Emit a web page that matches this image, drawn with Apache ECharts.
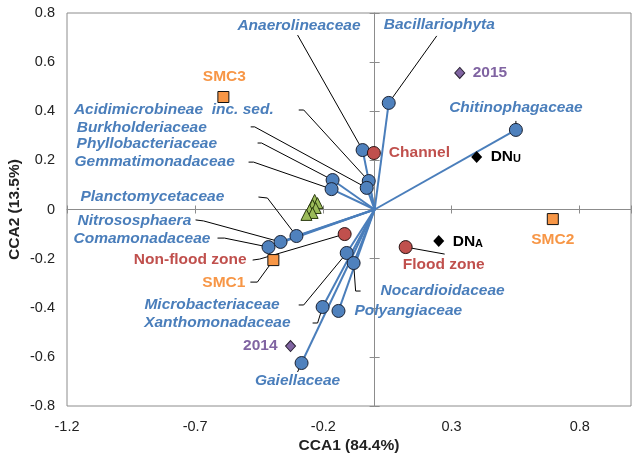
<!DOCTYPE html>
<html>
<head>
<meta charset="utf-8">
<script src="https://cdn.jsdelivr.net/npm/echarts@6/dist/echarts.min.js"></script>
<style>
html,body{margin:0;padding:0;background:#fff;}
#chart{width:638px;height:460px;}
</style>
</head>
<body>
<div id="chart"></div>
<script>
// ---------------- DATA ----------------
const speciesNames = ['Anaerolineaceae','Bacillariophyta','Chitinophagaceae','Acidimicrobineae  inc. sed.',
  'Burkholderiaceae','Phyllobacteriaceae','Gemmatimonadaceae','Planctomycetaceae','Nitrososphaera',
  'Comamonadaceae','Microbacteriaceae','Xanthomonadaceae','Gaiellaceae','Nocardioidaceae','Polyangiaceae'];
const speciesX = [-0.047, 0.055, 0.551, -0.023, -0.031, -0.164, -0.168, -0.305, -0.367, -0.414, -0.109, -0.203, -0.285, -0.082, -0.141];
const speciesY = [0.242, 0.434, 0.324, 0.116, 0.088, 0.120, 0.083, -0.108, -0.132, -0.153, -0.177, -0.397, -0.625, -0.218, -0.413];

const otherX = [-0.234, -0.223, -0.242, -0.230, -0.254, -0.242, -0.266];
const otherY = [0.039, 0.026, 0.018, 0.006, -0.002, -0.014, -0.022];

const siteNames = ['Channel', 'Non-flood zone', 'Flood zone'];
const siteX = [-0.003, -0.117, 0.121];
const siteY = [0.230, -0.100, -0.153];

const smcNames = ['SMC1', 'SMC2', 'SMC3'];
const smcX = [-0.395, 0.695, -0.590];
const smcY = [-0.206, -0.039, 0.458];

const yearNames = ['2014', '2015'];
const yearX = [-0.328, 0.332];
const yearY = [-0.556, 0.556];

const dnNames = ['A', 'U'];   // DN subscripts
const dnX = [0.250, 0.398];
const dnY = [-0.128, 0.214];

const xAxisTitle = 'CCA1 (84.4%)';
const yAxisTitle = 'CCA2 (13.5%)';

// ---------------- LAYOUT / STYLE (pixels) ----------------
const FONT = '"Liberation Sans", Arial, sans-serif';
const LFS = 15.5; // label font size
const C_BLUE = '#4f81bd', C_BLUE_T = '#4a7ebb', C_RED = '#c0504d', C_ORANGE = '#f79646', C_PURPLE = '#8064a2', C_GREEN = '#9bbb59';
const layout = {
  'Anaerolineaceae': {dx:-2, dy:-124, align:'right', leader:[[-65,-115]]},
  'Bacillariophyta': {dx:-5, dy:-78, align:'left', leader:[[48,-67]]},
  'Chitinophagaceae': {dx:0, dy:-22, align:'center', leader:[[0,-9]]},
  'Acidimicrobineae  inc. sed.': {dx:-95, dy:-71, align:'right', leader:[[-70,-71],[-65,-71]]},
  'Burkholderiaceae': {dx:-290, dy:-60, align:'left', leader:[[-116,-61],[-112,-61]]},
  'Phyllobacteriaceae': {dx:-256, dy:-36, align:'left', leader:[[-75,-37],[-71,-37]]},
  'Gemmatimonadaceae': {dx:-257, dy:-27, align:'left', leader:[[-83,-27],[-78,-27]]},
  'Planctomycetaceae': {dx:-216, dy:-39, align:'left', leader:[[-38,-39],[-29,-38]]},
  'Nitrososphaera': {dx:-203, dy:-21, align:'left', leader:[[-85,-22],[-77,-21]]},
  'Comamonadaceae': {dx:-195, dy:-8, align:'left', leader:[[-51,-9],[-44,-9]]},
  'Microbacteriaceae': {dx:-67, dy:52, align:'right', leader:[[-48,52],[-43,52]]},
  'Xanthomonadaceae': {dx:-32, dy:16, align:'right', leader:[[-10,16],[-5,16]]},
  'Gaiellaceae': {dx:-4, dy:18, align:'center', leader:[[-4,9]]},
  'Nocardioidaceae': {dx:27, dy:28, align:'left', leader:[[7,28],[2,28]]},
  'Polyangiaceae': {dx:16, dy:0, align:'left', leader:null},
  'Channel': {dx:15, dy:0, align:'left', leader:null},
  'Non-flood zone': {dx:-98, dy:26, align:'right', leader:[[-92,26],[-85,25]]},
  'Flood zone': {dx:38, dy:18, align:'center', leader:[[39,7]]},
  'SMC1': {dx:-28, dy:23, align:'right', leader:[[-23,22],[-16,22]]},
  'SMC2': {dx:0, dy:21, align:'center', leader:null},
  'SMC3': {dx:1, dy:-20, align:'center', leader:null},
  '2014': {dx:-13, dy:0, align:'right', leader:null},
  '2015': {dx:13, dy:0, align:'left', leader:null},
  'A': {dx:14, dy:1, align:'left', leader:null},
  'U': {dx:14, dy:0, align:'left', leader:null}
};

function zip(xs, ys){ return xs.map((x,i)=>[x, ys[i]]); }

function labelSeries(names, xs, ys, color, italic, isDN){
  return {
    type:'custom', z:10, silent:true,
    data: zip(xs, ys),
    encode:{x:0, y:1},
    renderItem: function(params, api){
      const name = names[params.dataIndex];
      const cfg = layout[name];
      const p = api.coord([api.value(0), api.value(1)]);
      const children = [];
      if (cfg.leader){
        const pts = cfg.leader.map(o=>[p[0]+o[0], p[1]+o[1]]);
        pts.push([p[0], p[1]]);
        children.push({type:'polyline', z2:0, shape:{points:pts}, style:{stroke:'#000', lineWidth:1, fill:null}});
      }
      const st = {x:p[0]+cfg.dx, y:p[1]+cfg.dy, align:cfg.align, verticalAlign:'middle',
        fill:color, fontSize:LFS, fontWeight:'bold', fontStyle: italic?'italic':'normal', fontFamily:FONT};
      if (isDN){
        st.text = '{a|DN}{s|' + name + '}';
        st.rich = {
          a:{fontSize:LFS, fontWeight:'bold', fontFamily:FONT, fill:'#000', color:'#000', lineHeight:16, verticalAlign:'top'},
          s:{fontSize:11, fontWeight:'bold', fontFamily:FONT, fill:'#000', color:'#000', lineHeight:11, padding:[7,0,0,0], verticalAlign:'bottom'}
        };
      } else {
        st.text = name;
      }
      children.push({type:'text', z2:1, style:st});
      return {type:'group', children:children};
    }
  };
}

const chart = echarts.init(document.getElementById('chart'), null, {renderer:'canvas'});
const axisGray = '#8c8c8c';
const option = {
  animation:false,
  backgroundColor:'#fff',
  grid:{left:67, right:7, top:13, bottom:54, show:true, borderColor:axisGray, borderWidth:1,
        backgroundColor:'transparent', containLabel:false, outerBoundsMode:'none'},
  xAxis:[
    {type:'value', min:-1.2, max:1.0, interval:0.5, position:'bottom',
     axisLine:{show:false, onZero:false}, axisTick:{show:false}, splitLine:{show:false},
     axisLabel:{fontSize:14.5, color:'#222', fontFamily:FONT, margin:13, showMaxLabel:false},
     name:xAxisTitle, nameLocation:'middle', nameGap:32, nameMoveOverlap:false,
     nameTextStyle:{fontSize:15.5, fontWeight:'bold', color:'#222', fontFamily:FONT}},
    {type:'value', min:-1.2, max:1.0, interval:0.5, position:'bottom',
     axisLine:{show:true, onZero:true, lineStyle:{color:axisGray, width:1}},
     axisTick:{show:true, inside:true, length:4, lineStyle:{color:axisGray}}, axisLabel:{show:false}, splitLine:{show:false}},
    {type:'value', min:-1.2, max:1.0, interval:0.5, position:'bottom',
     axisLine:{show:false, onZero:true},
     axisTick:{show:true, inside:false, length:4, lineStyle:{color:axisGray}}, axisLabel:{show:false}, splitLine:{show:false}}
  ],
  yAxis:[
    {type:'value', min:-0.8, max:0.8, interval:0.2, position:'left',
     axisLine:{show:false, onZero:false}, axisTick:{show:false}, splitLine:{show:false},
     axisLabel:{fontSize:14.5, color:'#222', fontFamily:FONT, margin:12},
     name:yAxisTitle, nameLocation:'middle', nameGap:44, nameRotate:90, nameMoveOverlap:false,
     nameTextStyle:{fontSize:15.5, fontWeight:'bold', color:'#222', fontFamily:FONT}},
    {type:'value', min:-0.8, max:0.8, interval:0.2, position:'left',
     axisLine:{show:true, onZero:true, lineStyle:{color:axisGray, width:1}},
     axisTick:{show:true, inside:true, length:5, lineStyle:{color:axisGray}}, axisLabel:{show:false}, splitLine:{show:false}},
    {type:'value', min:-0.8, max:0.8, interval:0.2, position:'left',
     axisLine:{show:false, onZero:true},
     axisTick:{show:true, inside:false, length:5, lineStyle:{color:axisGray}}, axisLabel:{show:false}, splitLine:{show:false}}
  ],
  series:[
    {type:'custom', z:3, silent:true, data:zip(speciesX, speciesY), encode:{x:0,y:1},
     renderItem:function(params, api){
       const o = api.coord([0,0]);
       const p = api.coord([api.value(0), api.value(1)]);
       return {type:'line', shape:{x1:o[0], y1:o[1], x2:p[0], y2:p[1]}, style:{stroke:C_BLUE_T, lineWidth:2}};
     }},
    labelSeries(speciesNames, speciesX, speciesY, C_BLUE_T, true, false),
    labelSeries(siteNames, siteX, siteY, C_RED, false, false),
    labelSeries(smcNames, smcX, smcY, C_ORANGE, false, false),
    labelSeries(yearNames, yearX, yearY, C_PURPLE, false, false),
    labelSeries(dnNames, dnX, dnY, '#000', false, true),
    {type:'scatter', z:20, symbol:'triangle', symbolSize:11, data:zip(otherX, otherY),
     itemStyle:{color:C_GREEN, borderColor:'#2b3a10', borderWidth:1, opacity:1}},
    {type:'scatter', z:21, symbol:'circle', symbolSize:13, data:zip(speciesX, speciesY),
     itemStyle:{color:C_BLUE, borderColor:'#1a2233', borderWidth:1, opacity:1}},
    {type:'scatter', z:21, symbol:'circle', symbolSize:13, data:zip(siteX, siteY),
     itemStyle:{color:C_RED, borderColor:'#2a1515', borderWidth:1, opacity:1}},
    {type:'scatter', z:21, symbol:'rect', symbolSize:11, data:zip(smcX, smcY),
     itemStyle:{color:C_ORANGE, borderColor:'#111', borderWidth:1, opacity:1}},
    {type:'scatter', z:21, symbol:'diamond', symbolSize:[10,11], data:zip(yearX, yearY),
     itemStyle:{color:C_PURPLE, borderColor:'#2a2233', borderWidth:1, opacity:1}},
    {type:'scatter', z:21, symbol:'diamond', symbolSize:[11,12], data:zip(dnX, dnY),
     itemStyle:{color:'#000', borderColor:'#000', borderWidth:0, opacity:1}}
  ]
};
chart.setOption(option);
</script>
</body>
</html>
